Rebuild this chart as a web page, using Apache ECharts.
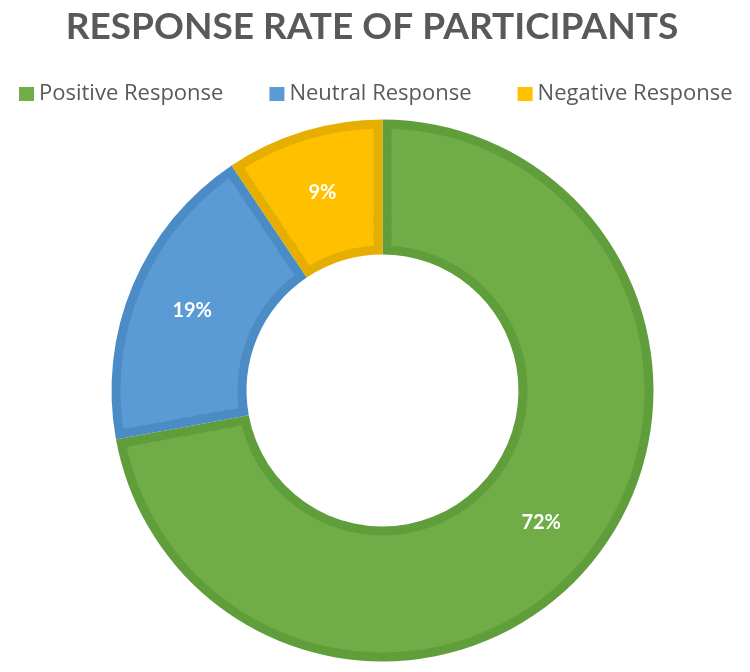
<!DOCTYPE html>
<html>
<head>
<meta charset="utf-8">
<script src="https://cdn.jsdelivr.net/npm/echarts@6/dist/echarts.min.js"></script>
<style>
html,body{margin:0;padding:0;background:#fff;}
#chart{width:750px;height:672px;}
</style>
</head>
<body>
<div id="chart"></div>
<script>
// ---- data ----
const chartTitle = 'RESPONSE RATE OF PARTICIPANTS';
const categories = ['Positive Response', 'Neutral Response', 'Negative Response'];
const shares = [72.1, 18.5, 9.4];            // labels rounded to 72%, 19%, 9%
const fillColors = ['#70AD47', '#5B9BD5', '#FFC000'];
const edgeColors = ['#609E3B', '#4C8CC6', '#E6AE00'];

// ---- layout constants ----
const CX = 382.5, CY = 390.5;
const R_IN = 136, R_OUT = 271, EDGE = 9;
const RINGS = 8;

const chart = echarts.init(document.getElementById('chart'), null, {renderer: 'canvas'});

function pieData(colors) {
  return categories.map((name, i) => ({
    name: name,
    value: shares[i],
    itemStyle: {color: colors ? colors[i] : 'rgba(0,0,0,0)'}
  }));
}

const common = {
  type: 'pie',
  center: [CX, CY],
  startAngle: 90,
  clockwise: true,
  silent: true,
  animation: false,
  avoidLabelOverlap: false,
  label: {show: false},
  labelLine: {show: false},
  emphasis: {disabled: true}
};

const series = [];
// darker edge (full ring)
series.push(Object.assign({}, common, {
  name: 'edge',
  radius: [R_IN, R_OUT],
  data: pieData(edgeColors)
}));
// lighter fill, inset by EDGE on every side (concentric bands with padAngle matched to their radius)
const lin = R_IN + EDGE, lout = R_OUT - EDGE;
const step = (lout - lin) / RINGS;
for (let k = 0; k < RINGS; k++) {
  const r0 = lin + k * step;
  const r1 = Math.min(lout, r0 + step + 0.8);
  const rm = (r0 + r1) / 2;
  const pad = (2 * EDGE / rm) * 180 / Math.PI;
  series.push(Object.assign({}, common, {
    name: 'fill' + k,
    radius: [r0, r1],
    padAngle: pad,
    data: pieData(fillColors)
  }));
}
// labels on top
series.push(Object.assign({}, common, {
  name: 'labels',
  radius: [R_IN, R_OUT],
  percentPrecision: 0,
  label: {
    show: true,
    position: 'inside',
    formatter: '{d}%',
    color: '#ffffff',
    fontFamily: 'Lato',
    fontWeight: 'bold',
    fontSize: 20
  },
  data: pieData(null)
}));

chart.setOption({
  backgroundColor: '#ffffff',
  animation: false,
  title: {
    text: chartTitle,
    left: 367,
    top: 4,
    textAlign: 'center',
    textStyle: {
      fontFamily: 'Lato',
      fontWeight: 'bold',
      fontSize: 37,
      color: '#595959'
    }
  },
  legend: {
    top: 78,
    left: 14,
    itemGap: 46,
    itemWidth: 15,
    itemHeight: 14,
    icon: 'rect',
    selectedMode: false,
    textStyle: {fontFamily: 'Open Sans', fontSize: 22, color: '#595959'},
    data: categories.map((name, i) => ({name: name, itemStyle: {color: fillColors[i]}}))
  },
  series: series
});
</script>
</body>
</html>
